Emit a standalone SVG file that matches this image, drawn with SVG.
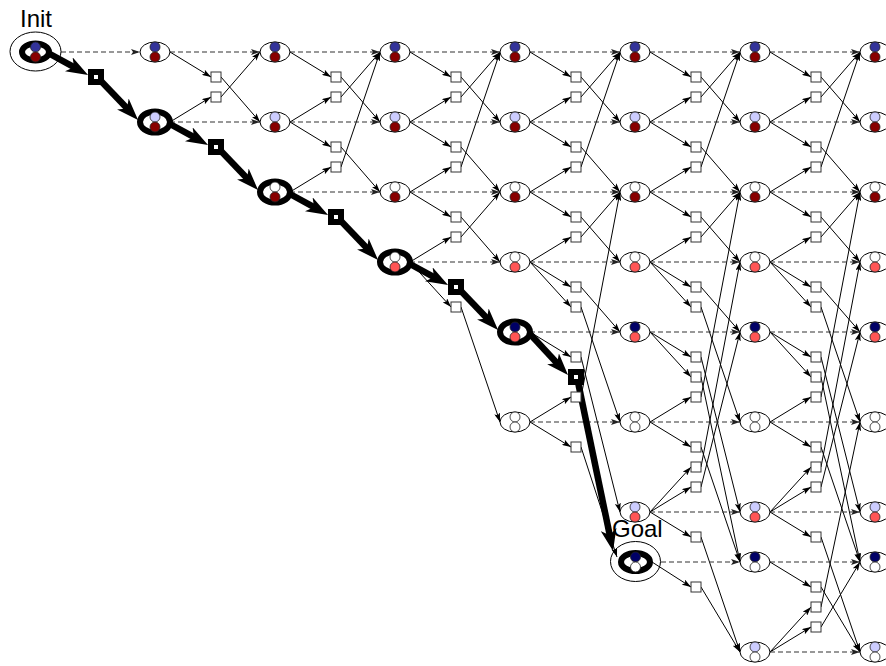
<svg xmlns="http://www.w3.org/2000/svg" xmlns:xlink="http://www.w3.org/1999/xlink" width="886" height="666" viewBox="0 0 886 666">
<style>
.e path{fill:none;stroke:#000;stroke-width:1;marker-end:url(#ah)}
.d path{fill:none;stroke:#333;stroke-width:1.2;stroke-dasharray:5 3;marker-end:url(#ahd)}
.b path{fill:none;stroke:#000;stroke-width:6.5;marker-end:url(#ahb)}
.ring{fill:none;stroke:#000;stroke-width:1}
.lbl{font-family:"Liberation Sans",Arial,sans-serif;font-size:24px;fill:#000}
</style>
<defs>
<marker id="ah" markerUnits="userSpaceOnUse" markerWidth="9" markerHeight="6" refX="9" refY="3" orient="auto"><path d="M0,0L9,3L0,6L2,3z" fill="#000"/></marker>
<marker id="ahd" markerUnits="userSpaceOnUse" markerWidth="9" markerHeight="6" refX="9" refY="3" orient="auto"><path d="M0,0L9,3L0,6L2,3z" fill="#222"/></marker>
<marker id="ahb" markerUnits="userSpaceOnUse" markerWidth="22" markerHeight="16" refX="7" refY="8" orient="auto"><path d="M0,0L22,8L0,16L6,8z" fill="#000"/></marker>
<!-- state shell, plain and highlighted -->
<ellipse id="n" rx="15" ry="10" fill="#fff" stroke="#000" stroke-width="1"/>
<ellipse id="nb" rx="15" ry="10.5" fill="#fff" stroke="#000" stroke-width="6"/>
<!-- action box, plain and highlighted -->
<rect id="sq" x="-5" y="-5" width="10" height="10" fill="#fff" stroke="#333" stroke-width="1"/>
<rect id="sqb" x="-5" y="-5" width="10" height="10" fill="#fff" stroke="#000" stroke-width="6"/>
<!-- the two tokens of each state -->
<g id="p1" stroke="#222" stroke-width="0.8"><circle cy="-5" r="5" fill="#333399"/><circle cy="5" r="5" fill="#880000"/></g>
<g id="p2" stroke="#222" stroke-width="0.8"><circle cy="-5" r="5" fill="#ccccff"/><circle cy="5" r="5" fill="#880000"/></g>
<g id="p3" stroke="#222" stroke-width="0.8"><circle cy="-5" r="5" fill="#fff"/><circle cy="5" r="5" fill="#880000"/></g>
<g id="p4" stroke="#222" stroke-width="0.8"><circle cy="-5" r="5" fill="#fff"/><circle cy="5" r="5" fill="#ff5555"/></g>
<g id="p5" stroke="#222" stroke-width="0.8"><circle cy="-5" r="5" fill="#000066"/><circle cy="5" r="5" fill="#ff5555"/></g>
<g id="p6" stroke="#222" stroke-width="0.8"><circle cy="-5" r="5" fill="#fff"/><circle cy="5" r="5" fill="#fff"/></g>
<g id="p7" stroke="#222" stroke-width="0.8"><circle cy="-5" r="5" fill="#ccccff"/><circle cy="5" r="5" fill="#ff5555"/></g>
<g id="p8" stroke="#222" stroke-width="0.8"><circle cy="-5" r="5" fill="#000066"/><circle cy="5" r="5" fill="#fff"/></g>
<g id="p9" stroke="#222" stroke-width="0.8"><circle cy="-5" r="5" fill="#ccccff"/><circle cy="5" r="5" fill="#fff"/></g>
</defs>
<rect width="886" height="666" fill="#fff"/>

<g id="connectors">
<g class="e">
<path d="M170 52L211 77"/><path d="M221 77L260 122"/><path d="M170 122L211 97"/><path d="M221 97L260 52"/>

<path d="M290 52L331 77"/><path d="M341 77L380 122"/><path d="M290 122L331 97"/><path d="M341 97L380 52"/>
<path d="M290 122L331 147"/><path d="M341 147L380 192"/><path d="M290 192L331 167"/><path d="M341 167L380 52"/>

<path d="M410 52L451 77"/><path d="M461 77L500 122"/><path d="M410 122L451 97"/><path d="M461 97L500 52"/>
<path d="M410 122L451 147"/><path d="M461 147L500 192"/><path d="M410 192L451 167"/><path d="M461 167L500 52"/>
<path d="M410 192L451 217"/><path d="M461 217L500 262"/><path d="M410 262L451 237"/><path d="M461 237L500 192"/>
<path d="M410 262L451 307"/><path d="M461 307L500 422"/>

<path d="M530 52L571 77"/><path d="M581 77L620 122"/><path d="M530 122L571 97"/><path d="M581 97L620 52"/>
<path d="M530 122L571 147"/><path d="M581 147L620 192"/><path d="M530 192L571 167"/><path d="M581 167L620 52"/>
<path d="M530 192L571 217"/><path d="M581 217L620 262"/><path d="M530 262L571 237"/><path d="M581 237L620 192"/>
<path d="M530 262L571 287"/><path d="M581 287L620 332"/><path d="M530 262L571 307"/><path d="M581 307L620 422"/>
<path d="M530 332L571 357"/><path d="M581 357L620 512"/>
<path d="M530 422L571 397"/><path d="M581 397L620 192"/><path d="M530 422L571 447"/><path d="M581 447L617 557"/>

<path d="M650 52L691 77"/><path d="M701 77L740 122"/><path d="M650 122L691 97"/><path d="M701 97L740 52"/>
<path d="M650 122L691 147"/><path d="M701 147L740 192"/><path d="M650 192L691 167"/><path d="M701 167L740 52"/>
<path d="M650 192L691 217"/><path d="M701 217L740 262"/><path d="M650 262L691 237"/><path d="M701 237L740 192"/>
<path d="M650 262L691 287"/><path d="M701 287L740 332"/><path d="M650 262L691 307"/><path d="M701 307L740 422"/>
<path d="M650 332L691 357"/><path d="M701 357L740 512"/><path d="M650 332L691 377"/><path d="M701 377L740 562"/>
<path d="M650 422L691 397"/><path d="M701 397L740 192"/><path d="M650 422L691 447"/><path d="M701 447L740 562"/>
<path d="M650 512L691 467"/><path d="M701 467L740 262"/><path d="M650 512L691 487"/><path d="M701 487L740 332"/>
<path d="M650 512L691 537"/><path d="M701 537L740 652"/><path d="M652 562L691 587"/><path d="M701 587L740 652"/>

<path d="M770 52L811 77"/><path d="M821 77L860 122"/><path d="M770 122L811 97"/><path d="M821 97L860 52"/>
<path d="M770 122L811 147"/><path d="M821 147L860 192"/><path d="M770 192L811 167"/><path d="M821 167L860 52"/>
<path d="M770 192L811 217"/><path d="M821 217L860 262"/><path d="M770 262L811 237"/><path d="M821 237L860 192"/>
<path d="M770 262L811 287"/><path d="M821 287L860 332"/><path d="M770 262L811 307"/><path d="M821 307L860 422"/>
<path d="M770 332L811 357"/><path d="M821 357L860 512"/><path d="M770 332L811 377"/><path d="M821 377L860 562"/>
<path d="M770 422L811 397"/><path d="M821 397L860 192"/><path d="M770 422L811 447"/><path d="M821 447L860 562"/>
<path d="M770 512L811 467"/><path d="M821 467L860 262"/><path d="M770 512L811 487"/><path d="M821 487L860 332"/>
<path d="M770 512L811 537"/><path d="M821 537L860 652"/><path d="M770 562L811 587"/><path d="M821 587L860 652"/>
<path d="M770 652L811 607"/><path d="M821 607L860 422"/><path d="M770 652L811 627"/><path d="M821 627L860 562"/>
</g>
<g class="d">
<path d="M61 52H140"/>
<path d="M170 52H260"/><path d="M170 122H260"/>
<path d="M290 52H380"/><path d="M290 122H380"/><path d="M290 192H380"/>
<path d="M410 52H500"/><path d="M410 122H500"/><path d="M410 192H500"/><path d="M410 262H500"/>
<path d="M530 52H620"/><path d="M530 122H620"/><path d="M530 192H620"/><path d="M530 262H620"/><path d="M530 332H620"/><path d="M530 422H620"/>
<path d="M650 52H740"/><path d="M650 122H740"/><path d="M650 192H740"/><path d="M650 262H740"/><path d="M650 332H740"/><path d="M650 422H740"/><path d="M650 512H740"/><path d="M661 562H740"/>
<path d="M770 52H860"/><path d="M770 122H860"/><path d="M770 192H860"/><path d="M770 262H860"/><path d="M770 332H860"/><path d="M770 422H860"/><path d="M770 512H860"/><path d="M770 562H860"/><path d="M770 652H860"/>
</g>
<g class="b">
<path d="M50 54L74.9 67.7"/>
<path d="M100 80L127.7 109.1"/>
<path d="M170 124L194.9 137.7"/>
<path d="M220 150L247.7 179.1"/>
<path d="M290 194L314.9 207.7"/>
<path d="M340 220L367.7 249.1"/>
<path d="M410 264L434.9 277.7"/>
<path d="M460 290L487.7 319.1"/>
<path d="M530 334L557.8 364"/>
<path d="M578 382L610 536.3"/>
</g>
</g>

<!-- action boxes -->
<g id="a1_77"><use href="#sqb" x="96" y="77"/></g>
<g id="a2_77"><use href="#sq" x="216" y="77"/></g>
<g id="a2_97"><use href="#sq" x="216" y="97"/></g>
<g id="a2_147"><use href="#sqb" x="216" y="147"/></g>
<g id="a3_77"><use href="#sq" x="336" y="77"/></g>
<g id="a3_97"><use href="#sq" x="336" y="97"/></g>
<g id="a3_147"><use href="#sq" x="336" y="147"/></g>
<g id="a3_167"><use href="#sq" x="336" y="167"/></g>
<g id="a3_217"><use href="#sqb" x="336" y="217"/></g>
<g id="a4_77"><use href="#sq" x="456" y="77"/></g>
<g id="a4_97"><use href="#sq" x="456" y="97"/></g>
<g id="a4_147"><use href="#sq" x="456" y="147"/></g>
<g id="a4_167"><use href="#sq" x="456" y="167"/></g>
<g id="a4_217"><use href="#sq" x="456" y="217"/></g>
<g id="a4_237"><use href="#sq" x="456" y="237"/></g>
<g id="a4_287"><use href="#sqb" x="456" y="287"/></g>
<g id="a4_307"><use href="#sq" x="456" y="307"/></g>
<g id="a5_77"><use href="#sq" x="576" y="77"/></g>
<g id="a5_97"><use href="#sq" x="576" y="97"/></g>
<g id="a5_147"><use href="#sq" x="576" y="147"/></g>
<g id="a5_167"><use href="#sq" x="576" y="167"/></g>
<g id="a5_217"><use href="#sq" x="576" y="217"/></g>
<g id="a5_237"><use href="#sq" x="576" y="237"/></g>
<g id="a5_287"><use href="#sq" x="576" y="287"/></g>
<g id="a5_307"><use href="#sq" x="576" y="307"/></g>
<g id="a5_357"><use href="#sq" x="576" y="357"/></g>
<g id="a5_377"><use href="#sqb" x="576" y="377"/></g>
<g id="a5_397"><use href="#sq" x="576" y="397"/></g>
<g id="a5_447"><use href="#sq" x="576" y="447"/></g>
<g id="a6_77"><use href="#sq" x="696" y="77"/></g>
<g id="a6_97"><use href="#sq" x="696" y="97"/></g>
<g id="a6_147"><use href="#sq" x="696" y="147"/></g>
<g id="a6_167"><use href="#sq" x="696" y="167"/></g>
<g id="a6_217"><use href="#sq" x="696" y="217"/></g>
<g id="a6_237"><use href="#sq" x="696" y="237"/></g>
<g id="a6_287"><use href="#sq" x="696" y="287"/></g>
<g id="a6_307"><use href="#sq" x="696" y="307"/></g>
<g id="a6_357"><use href="#sq" x="696" y="357"/></g>
<g id="a6_377"><use href="#sq" x="696" y="377"/></g>
<g id="a6_397"><use href="#sq" x="696" y="397"/></g>
<g id="a6_447"><use href="#sq" x="696" y="447"/></g>
<g id="a6_467"><use href="#sq" x="696" y="467"/></g>
<g id="a6_487"><use href="#sq" x="696" y="487"/></g>
<g id="a6_537"><use href="#sq" x="696" y="537"/></g>
<g id="a6_587"><use href="#sq" x="696" y="587"/></g>
<g id="a7_77"><use href="#sq" x="816" y="77"/></g>
<g id="a7_97"><use href="#sq" x="816" y="97"/></g>
<g id="a7_147"><use href="#sq" x="816" y="147"/></g>
<g id="a7_167"><use href="#sq" x="816" y="167"/></g>
<g id="a7_217"><use href="#sq" x="816" y="217"/></g>
<g id="a7_237"><use href="#sq" x="816" y="237"/></g>
<g id="a7_287"><use href="#sq" x="816" y="287"/></g>
<g id="a7_307"><use href="#sq" x="816" y="307"/></g>
<g id="a7_357"><use href="#sq" x="816" y="357"/></g>
<g id="a7_377"><use href="#sq" x="816" y="377"/></g>
<g id="a7_397"><use href="#sq" x="816" y="397"/></g>
<g id="a7_447"><use href="#sq" x="816" y="447"/></g>
<g id="a7_467"><use href="#sq" x="816" y="467"/></g>
<g id="a7_487"><use href="#sq" x="816" y="487"/></g>
<g id="a7_537"><use href="#sq" x="816" y="537"/></g>
<g id="a7_587"><use href="#sq" x="816" y="587"/></g>
<g id="a7_607"><use href="#sq" x="816" y="607"/></g>
<g id="a7_627"><use href="#sq" x="816" y="627"/></g>

<!-- states -->
<g id="s0_1"><ellipse class="ring" cx="35.5" cy="51.5" rx="25.5" ry="19.5"/><ellipse cx="35.5" cy="52" rx="13.5" ry="8.5" fill="#fff" stroke="#000" stroke-width="6"/><use href="#p1" x="35.5" y="52"/><text class="lbl" x="20" y="26.5">Init</text></g>
<g id="s1_1" transform="translate(155 52)"><use href="#n"/><use href="#p1"/></g>
<g id="s1_2" transform="translate(155 122)"><use href="#nb"/><use href="#p2"/></g>
<g id="s2_1" transform="translate(275 52)"><use href="#n"/><use href="#p1"/></g>
<g id="s2_2" transform="translate(275 122)"><use href="#n"/><use href="#p2"/></g>
<g id="s2_3" transform="translate(275 192)"><use href="#nb"/><use href="#p3"/></g>
<g id="s3_1" transform="translate(395 52)"><use href="#n"/><use href="#p1"/></g>
<g id="s3_2" transform="translate(395 122)"><use href="#n"/><use href="#p2"/></g>
<g id="s3_3" transform="translate(395 192)"><use href="#n"/><use href="#p3"/></g>
<g id="s3_4" transform="translate(395 262)"><use href="#nb"/><use href="#p4"/></g>
<g id="s4_1" transform="translate(515 52)"><use href="#n"/><use href="#p1"/></g>
<g id="s4_2" transform="translate(515 122)"><use href="#n"/><use href="#p2"/></g>
<g id="s4_3" transform="translate(515 192)"><use href="#n"/><use href="#p3"/></g>
<g id="s4_4" transform="translate(515 262)"><use href="#n"/><use href="#p4"/></g>
<g id="s4_5" transform="translate(515 332)"><use href="#nb"/><use href="#p5"/></g>
<g id="s4_6" transform="translate(515 422)"><use href="#n"/><use href="#p6"/></g>
<g id="s5_1" transform="translate(635 52)"><use href="#n"/><use href="#p1"/></g>
<g id="s5_2" transform="translate(635 122)"><use href="#n"/><use href="#p2"/></g>
<g id="s5_3" transform="translate(635 192)"><use href="#n"/><use href="#p3"/></g>
<g id="s5_4" transform="translate(635 262)"><use href="#n"/><use href="#p4"/></g>
<g id="s5_5" transform="translate(635 332)"><use href="#n"/><use href="#p5"/></g>
<g id="s5_6" transform="translate(635 422)"><use href="#n"/><use href="#p6"/></g>
<g id="s5_7" transform="translate(635 512)"><use href="#n"/><use href="#p7"/></g>
<g id="s5_8"><ellipse class="ring" cx="635.5" cy="561.5" rx="25" ry="20"/><ellipse cx="635.5" cy="562" rx="14.5" ry="9" fill="#fff" stroke="#000" stroke-width="6"/><use href="#p8" x="635.5" y="562"/><text class="lbl" x="612" y="537">Goal</text></g>
<g id="s6_1" transform="translate(755 52)"><use href="#n"/><use href="#p1"/></g>
<g id="s6_2" transform="translate(755 122)"><use href="#n"/><use href="#p2"/></g>
<g id="s6_3" transform="translate(755 192)"><use href="#n"/><use href="#p3"/></g>
<g id="s6_4" transform="translate(755 262)"><use href="#n"/><use href="#p4"/></g>
<g id="s6_5" transform="translate(755 332)"><use href="#n"/><use href="#p5"/></g>
<g id="s6_6" transform="translate(755 422)"><use href="#n"/><use href="#p6"/></g>
<g id="s6_7" transform="translate(755 512)"><use href="#n"/><use href="#p7"/></g>
<g id="s6_8" transform="translate(755 562)"><use href="#n"/><use href="#p8"/></g>
<g id="s6_9" transform="translate(755 652)"><use href="#n"/><use href="#p9"/></g>
<g id="s7_1" transform="translate(875 52)"><use href="#n"/><use href="#p1"/></g>
<g id="s7_2" transform="translate(875 122)"><use href="#n"/><use href="#p2"/></g>
<g id="s7_3" transform="translate(875 192)"><use href="#n"/><use href="#p3"/></g>
<g id="s7_4" transform="translate(875 262)"><use href="#n"/><use href="#p4"/></g>
<g id="s7_5" transform="translate(875 332)"><use href="#n"/><use href="#p5"/></g>
<g id="s7_6" transform="translate(875 422)"><use href="#n"/><use href="#p6"/></g>
<g id="s7_7" transform="translate(875 512)"><use href="#n"/><use href="#p7"/></g>
<g id="s7_8" transform="translate(875 562)"><use href="#n"/><use href="#p8"/></g>
<g id="s7_9" transform="translate(875 652)"><use href="#n"/><use href="#p9"/></g>
</svg>
